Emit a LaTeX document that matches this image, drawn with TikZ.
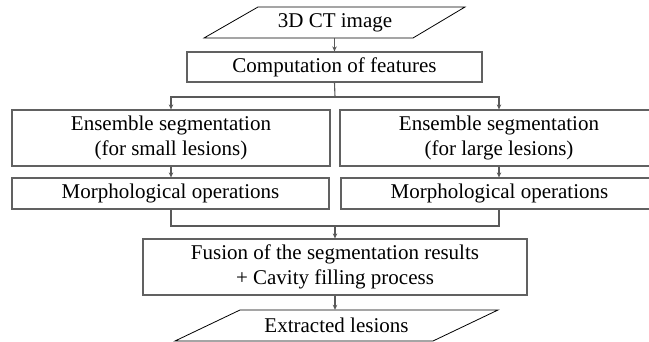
\documentclass[tikz,border=0pt]{standalone}
\usepackage{fontspec}
\setmainfont{Liberation Serif}
\usetikzlibrary{arrows.meta,calc}
\begin{document}
\begin{tikzpicture}[x=1pt,y=-1pt,
  every node/.style={font=\fontsize{21}{25}\selectfont, inner sep=0pt, align=center},
  box/.style={draw=black!62, line width=1.2pt, rectangle},
  para/.style={draw=black, line width=0.8pt},
  conn/.style={draw=black!65, line width=1.1pt},
  arr/.style={conn, -{Stealth[length=5pt,width=4.5pt]}}]
\clip (0,0) rectangle (649,342);
\fill[white] (0,0) rectangle (649,342);
% input parallelogram
\node (in) at (335,22.5) [minimum width=210pt, minimum height=31pt] {3D CT image};
\draw[para] ($(in)+(-77,-15.5)$) -- ($(in)+(130,-15.5)$) -- ($(in)+(78,15.5)$) -- ($(in)+(-131,15.5)$) -- cycle;
\node[box, minimum width=295pt, minimum height=30pt] (comp) at (334.5,67) {Computation of features};
\node[box, minimum width=318pt, minimum height=56pt] (esL) at (171,138) {Ensemble segmentation\\(for small lesions)};
\node[box, minimum width=318pt, minimum height=56pt] (esR) at (499,138) {Ensemble segmentation\\(for large lesions)};
\node[box, minimum width=317pt, minimum height=31pt] (moL) at (170.5,193.5) {Morphological operations};
\node[box, minimum width=317pt, minimum height=31pt] (moR) at (499.5,193.5) {Morphological operations};
\node[box, minimum width=384pt, minimum height=56pt] (fus) at (335,267) {Fusion of the segmentation results\\+ Cavity filling process};
\node (out) at (336.5,325.5) [minimum width=258pt, minimum height=31pt] {Extracted lesions};
\draw[para] ($(out)+(-96.5,-15.5)$) -- ($(out)+(161.5,-15.5)$) -- ($(out)+(96.5,15.5)$) -- ($(out)+(-161.5,15.5)$) -- cycle;
% connectors
\coordinate (br) at (335,97);
\coordinate (jn) at (335,226);
\draw[arr] (in.south -| comp.north) -- (comp.north);
\draw[conn] (comp.south) -- (br);
\draw[arr] (br) -| (esL.north);
\draw[arr] (br) -| (esR.north);
\draw[arr] (esL.south) -- (moL.north -| esL.south);
\draw[arr] (esR.south) -- (moR.north -| esR.south);
\draw[conn] (moL.south -| esL.south) |- (jn);
\draw[conn] (moR.south -| esR.south) |- (jn);
\draw[arr] (jn) -- (fus.north);
\draw[arr] (fus.south) -- (fus.south |- out.north);
\end{tikzpicture}
\end{document}
